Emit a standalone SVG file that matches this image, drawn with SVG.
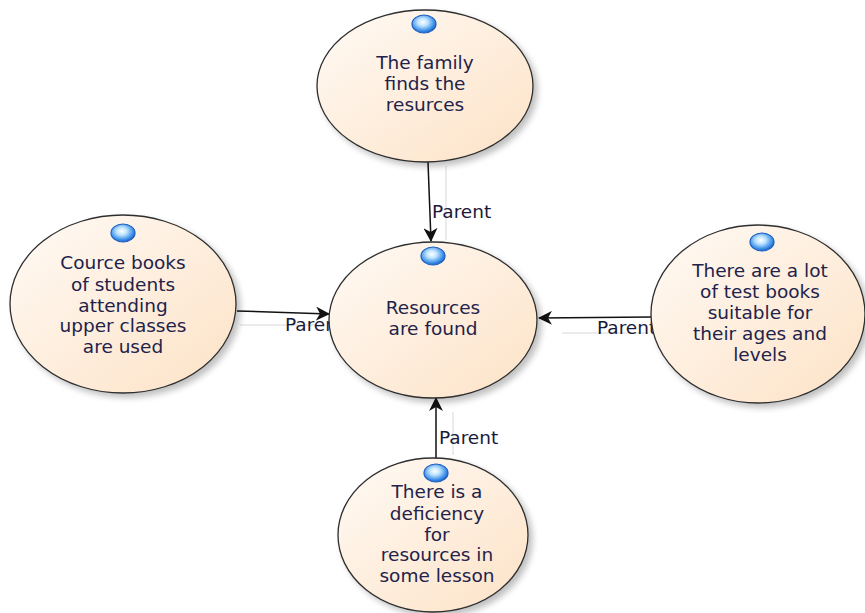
<svg xmlns="http://www.w3.org/2000/svg" width="865" height="613" viewBox="0 0 865 613">
<style>
.node{fill:url(#peach);stroke:#2e2e2e;stroke-width:1.3;filter:url(#sh)}
.dot{fill:url(#blue);stroke:#1f5fc0;stroke-width:1.2}
.t{font-family:"DejaVu Sans","Liberation Sans",sans-serif;font-size:18.5px;fill:#22224a;text-anchor:middle}
.lbl{font-family:"DejaVu Sans","Liberation Sans",sans-serif;font-size:18.5px;fill:#1a1a3a}
.edge{stroke:#111;stroke-width:1.5;fill:none;marker-end:url(#arr)}
.ghost{stroke:#e4e4e4;stroke-width:1.5;fill:none}
</style>
<defs>
<linearGradient id="peach" x1="0" y1="0" x2="1" y2="1">
<stop offset="0" stop-color="#fffaf5"/>
<stop offset="1" stop-color="#fde2c6"/>
</linearGradient>
<radialGradient id="blue" cx="0.45" cy="0.4" r="0.6">
<stop offset="0" stop-color="#ffffff"/>
<stop offset="0.35" stop-color="#bfe4ff"/>
<stop offset="0.8" stop-color="#3a8ee8"/>
<stop offset="1" stop-color="#1f5fc0"/>
</radialGradient>
<filter id="sh" x="-10%" y="-10%" width="130%" height="130%">
<feGaussianBlur in="SourceAlpha" stdDeviation="3"/>
<feOffset dx="4" dy="4" result="b"/>
<feComponentTransfer><feFuncA type="linear" slope="0.25"/></feComponentTransfer>
<feMerge><feMergeNode/><feMergeNode in="SourceGraphic"/></feMerge>
</filter>
<marker id="arr" viewBox="0 0 14 14" refX="13" refY="7" markerWidth="14" markerHeight="14" markerUnits="userSpaceOnUse" orient="auto">
<path d="M0,0 L14,7 L0,14 L4,7 Z" fill="#111"/>
</marker>
</defs>
<rect width="865" height="613" fill="#fff"/>
<g id="connectors">
<line class="ghost" x1="446" y1="166" x2="446" y2="240"/>
<line class="ghost" x1="240" y1="325" x2="325" y2="325"/>
<line class="ghost" x1="648" y1="333" x2="562" y2="333"/>
<line class="ghost" x1="453" y1="455" x2="453" y2="412"/>
<line class="edge" x1="428" y1="162" x2="431" y2="241"/>
<line class="edge" x1="237" y1="311" x2="329" y2="314"/>
<line class="edge" x1="651" y1="317" x2="539" y2="318"/>
<line class="edge" x1="436" y1="458" x2="436" y2="398"/>
<text class="lbl" x="432" y="218">Parent</text>
<text class="lbl" x="285" y="331">Parent</text>
<text class="lbl" x="597" y="334">Parent</text>
<text class="lbl" x="439" y="444">Parent</text>
</g>
<g id="n-top">
<ellipse class="node" cx="425" cy="86" rx="108" ry="76"/>
<ellipse class="dot" cx="424" cy="24" rx="12" ry="9"/>
<text class="t" x="425" y="69">The family</text>
<text class="t" x="425" y="90">finds the</text>
<text class="t" x="425" y="111">resurces</text>
</g>
<g id="n-left">
<ellipse class="node" cx="123" cy="304" rx="113" ry="89"/>
<ellipse class="dot" cx="123" cy="233" rx="12" ry="9"/>
<text class="t" x="123" y="269">Cource books</text>
<text class="t" x="123" y="291">of students</text>
<text class="t" x="123" y="312">attending</text>
<text class="t" x="123" y="332">upper classes</text>
<text class="t" x="123" y="353">are used</text>
</g>
<g id="n-right">
<ellipse class="node" cx="758" cy="314" rx="107" ry="89"/>
<ellipse class="dot" cx="762" cy="242" rx="12" ry="9"/>
<text class="t" x="760" y="277">There are a lot</text>
<text class="t" x="760" y="298">of test books</text>
<text class="t" x="760" y="319">suitable for</text>
<text class="t" x="760" y="340">their ages and</text>
<text class="t" x="760" y="361">levels</text>
</g>
<g id="n-bottom">
<ellipse class="node" cx="433" cy="535" rx="95" ry="77"/>
<text class="t" x="437" y="498">There is a</text>
<text class="t" x="437" y="520">deficiency</text>
<text class="t" x="437" y="541">for</text>
<text class="t" x="437" y="561">resources in</text>
<text class="t" x="437" y="582">some lesson</text>
<ellipse class="dot" cx="436" cy="473" rx="12" ry="9"/>
</g>
<g id="n-center">
<ellipse class="node" cx="433" cy="320" rx="104" ry="78"/>
<ellipse class="dot" cx="433" cy="256" rx="12" ry="9"/>
<text class="t" x="433" y="314">Resources</text>
<text class="t" x="433" y="335">are found</text>
</g>
</svg>
